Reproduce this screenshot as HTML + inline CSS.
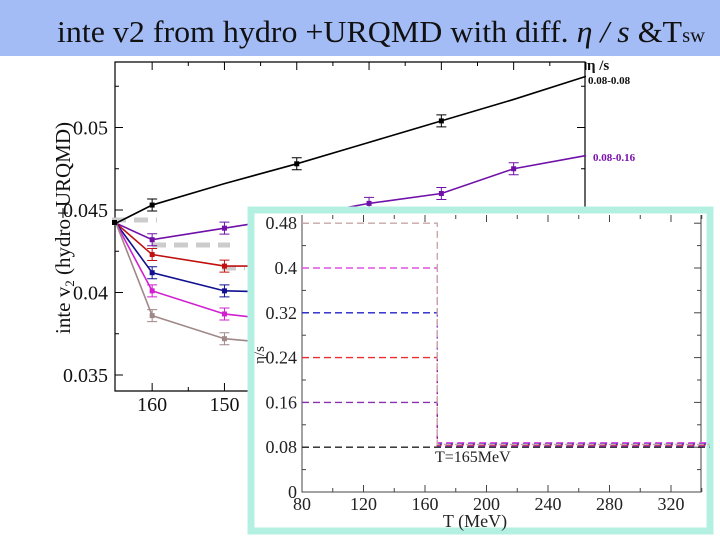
<!DOCTYPE html>
<html><head><meta charset="utf-8"><style>
body{margin:0;width:720px;height:540px;overflow:hidden;background:#fff;font-family:"Liberation Serif",serif}
</style></head><body>
<svg width="720" height="540" style="position:absolute;left:0;top:0">
<rect x="0" y="0" width="720" height="56" fill="#a4bcf6"/>
<text x="57" y="42" font-size="31" fill="#111" textLength="648" lengthAdjust="spacingAndGlyphs">inte v2 from hydro +URQMD with diff. <tspan font-style="italic">η / s</tspan> &amp;T<tspan font-size="20">sw</tspan></text>
<g id="main"></g>
<text transform="translate(70,228) rotate(-90)" text-anchor="middle" font-size="21" fill="#111">inte v<tspan font-size="13" dy="4">2</tspan><tspan dy="-4"> (hydro+URQMD)</tspan></text>
<text x="587" y="70" font-size="15" font-weight="bold" fill="#111">η /s</text>
<text x="588" y="84" font-size="11" font-weight="bold" fill="#111">0.08-0.08</text>
<text x="593" y="161" font-size="11" font-weight="bold" fill="#7a10b0">0.08-0.16</text>
<g id="inset"></g>
</svg>
<script>
// main chart data
const temps = [165, 160, 150, 140, 130, 120, 110, 100];
const seriesColors = ['#000000', '#7010a8', '#c01010', '#101090', '#d020d0', '#a08888'];
const seriesNames = ['0.08', '0.16', '0.24', '0.32', '0.40', '0.48'];
const v2Black = [0.0442, 0.0453, 0.0466, 0.0478, 0.0491, 0.0504, 0.0517, 0.0531];
const v2Purple = [0.0442, 0.0432, 0.0439, 0.0446, 0.0454, 0.0460, 0.0475, 0.0483];
const v2Red = [0.0442, 0.0423, 0.0416, 0.0416, 0.0420, 0.0424, 0.0430, 0.0436];
const v2Blue = [0.0442, 0.0412, 0.0401, 0.0400, 0.0402, 0.0406, 0.0410, 0.0414];
const v2Magenta = [0.0442, 0.0401, 0.0387, 0.0382, 0.0383, 0.0386, 0.0390, 0.0394];
const v2Brown = [0.0442, 0.0386, 0.0372, 0.0368, 0.0368, 0.0371, 0.0375, 0.0378];
const blackMarked = [160, 140, 120];
const yTicks = [0.035, 0.04, 0.045, 0.05];
const yTickLabels = ['0.035', '0.04', '0.045', '0.05'];
const xTicks = [160, 150];
const xTickLabels = ['160', '150'];
// inset data
const insetTemps = [80, 168, 168, 345];
const etaBrown = [0.48, 0.48, 0.085, 0.085];
const etaMagenta = [0.40, 0.40, 0.088, 0.088];
const etaBlue = [0.32, 0.32, 0.086, 0.086];
const etaRed = [0.24, 0.24, 0.084, 0.084];
const etaPurple = [0.16, 0.16, 0.082, 0.082];
const etaBlack = [0.08, 0.08, 0.08, 0.08];
const insetXTicks = [80, 120, 160, 200, 240, 280, 320];
const insetYTicks = [0, 0.08, 0.16, 0.24, 0.32, 0.4, 0.48];
const insetYLabels = ['0', '0.08', '0.16', '0.24', '0.32', '0.4', '0.48'];

const NS = 'http://www.w3.org/2000/svg';
function mk(parent, tag, attrs){const e=document.createElementNS(NS,tag);for(const k in attrs)e.setAttribute(k,attrs[k]);parent.appendChild(e);return e;}
const X = t => 116 + (165 - t) * 7.23;
const Y = v => 210 - (v - 0.045) * 16500;
const main = document.getElementById('main');
let fr = mk(main,'path',{d:'M115 62H585V391H115Z',fill:'none',stroke:'#000','stroke-width':1.2});


for (let t = 160; t >= 100; t -= 5) {
  const len = (t % 10 === 0) ? 8 : 4;
  mk(main,'line',{x1:X(t),x2:X(t),y1:62,y2:62+len,stroke:'#000'});
  mk(main,'line',{x1:X(t),x2:X(t),y1:391,y2:391-len,stroke:'#000'});
}
for (let k = 0; k <= 7; k++) {
  const v = 0.035 + k*0.0025;
  const major = k % 2 === 0;
  mk(main,'line',{x1:115,x2:115+(major?8:4),y1:Y(v),y2:Y(v),stroke:'#000'});
  mk(main,'line',{x1:585,x2:585-(major?8:4),y1:Y(v),y2:Y(v),stroke:'#000'});
}
yTicks.forEach((v,i)=>{
  const t = mk(main,'text',{x:108,y:Y(v)+7,'text-anchor':'end','font-size':20,fill:'#111'});
  t.textContent = yTickLabels[i];
  
  
});
xTickLabels.forEach((l,i)=>{
  const t = mk(main,'text',{x:X(xTicks[i]),y:411,'text-anchor':'middle','font-size':20,fill:'#111'});
  t.textContent = l;
  
  
});
[[112,220,157],[152,245,230],[222,268,245]].forEach(a=>{
  mk(main,'line',{x1:a[0],x2:a[2],y1:a[1],y2:a[1],stroke:'#ccc','stroke-width':5,'stroke-dasharray':'14 8'});
});
const allSeries = [v2Black, v2Purple, v2Red, v2Blue, v2Magenta, v2Brown];
allSeries.forEach((vals,si)=>{
  const p = mk(main,'polyline',{points:vals.map((v,i)=>X(temps[i])+','+Y(v)).join(' '),fill:'none',stroke:seriesColors[si],'stroke-width':1.6});
  
  
  vals.forEach((v,i)=>{
    if(i===0 || i===vals.length-1) return;
    if(si===0 && blackMarked.indexOf(temps[i])<0) return;
    const c = mk(main,'rect',{x:X(temps[i])-2.5,y:Y(v)-2.5,width:5,height:5,fill:seriesColors[si]});
    
    
    mk(main,'path',{d:`M${X(temps[i])-5} ${Y(v)-6}h10M${X(temps[i])} ${Y(v)-6}v12M${X(temps[i])-5} ${Y(v)+6}h10`,stroke:seriesColors[si],'stroke-width':1,fill:'none'});
  });
});
mk(main,'rect',{x:112,y:220,width:5,height:5,fill:'#000'});

// inset
const ins = document.getElementById('inset');
const IX = t => 302 + (t - 80) * 1.5375;
const IY = v => 492 - v * 560;
let bg = mk(ins,'rect',{x:251,y:210,width:459,height:321,fill:'#fff',stroke:'#b4f0e2','stroke-width':7});


mk(ins,'path',{d:`M302 215V492H701V215`,fill:'none',stroke:'#444','stroke-width':1});
for (let t=80;t<=340;t+=20){
  const l=(t%40===0)?7:4;
  mk(ins,'line',{x1:IX(t),x2:IX(t),y1:492,y2:492-l,stroke:'#444'});
  mk(ins,'line',{x1:IX(t),x2:IX(t),y1:215,y2:215+l,stroke:'#444'});
}
for (let k=0;k<=12;k++){
  const v=k*0.04;
  const l=(k%2===0)?7:4;
  mk(ins,'line',{x1:302,x2:302+l,y1:IY(v),y2:IY(v),stroke:'#444'});
  mk(ins,'line',{x1:701,x2:701-l,y1:IY(v),y2:IY(v),stroke:'#444'});
}
insetXTicks.forEach(t=>{
  const e=mk(ins,'text',{x:IX(t),y:510,'text-anchor':'middle','font-size':18,fill:'#222'});
  e.textContent=String(t);
  
  
});
insetYTicks.forEach((v,i)=>{
  const e=mk(ins,'text',{x:297,y:IY(v)+6,'text-anchor':'end','font-size':18,fill:'#222'});
  e.textContent=insetYLabels[i];
  
  
});
const insetSeries=[etaBlack, etaPurple, etaRed, etaBlue, etaMagenta, etaBrown];
const insetColors=['#222','#8a30b0','#e83030','#2020c8','#e050e0','#c8a8a8'];
insetSeries.forEach((vals,si)=>{
  const p=mk(ins,'polyline',{points:vals.map((v,i)=>IX(insetTemps[i])+','+IY(v)).join(' '),fill:'none',stroke:insetColors[si],'stroke-width':1.4,'stroke-dasharray':'7 4'});
  
  
});
let e1=mk(ins,'text',{x:435,y:462,'font-size':16,fill:'#222'});e1.textContent='T=165MeV';


let e2=mk(ins,'text',{x:475,y:527,'text-anchor':'middle','font-size':18,fill:'#222'});e2.textContent='T (MeV)';


let e3=mk(ins,'text',{transform:'translate(264,355) rotate(-90)','text-anchor':'middle','font-size':15,fill:'#222'});e3.textContent='η/s';


</script>
</body></html>
